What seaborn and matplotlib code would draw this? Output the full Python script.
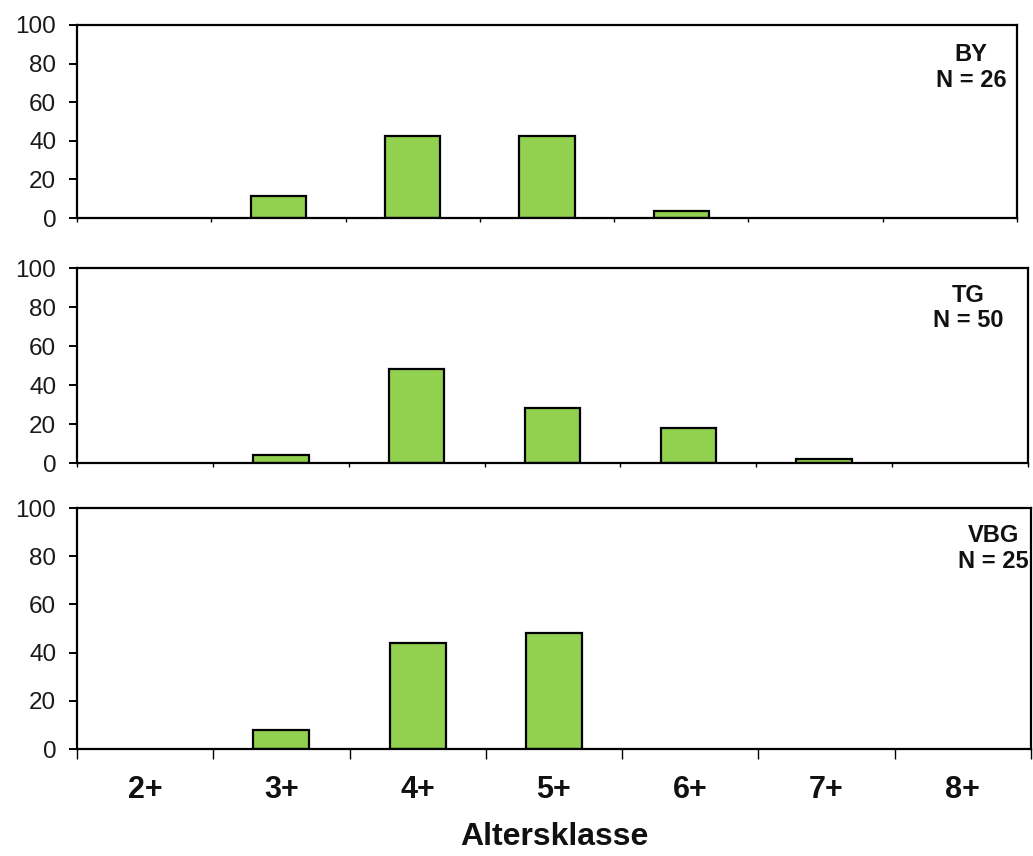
import numpy as np
import pandas as pd
import matplotlib
matplotlib.use("Agg")
import matplotlib.pyplot as plt
import seaborn as sns

# Age classes and percentages per region
classes = ["2+", "3+", "4+", "5+", "6+", "7+", "8+"]
by_values = [0, 11.5, 42.3, 42.3, 3.8, 0, 0]
tg_values = [0, 4, 48, 28, 18, 2, 0]
vbg_values = [0, 8, 44, 48, 0, 0, 0]

regions = ["BY", "TG", "VBG"]
counts = [26, 50, 25]
yticks = [0, 20, 40, 60, 80, 100]

sns.set_theme(style="white")
plt.rcParams['font.family'] = ['Liberation Sans', 'DejaVu Sans']

fig = plt.figure(figsize=(10.33, 8.56), dpi=100)

# axes rects [left, bottom, width, height] in figure fractions
rects = [
    [0.0745, 0.7453, 0.9100, 0.2255],
    [0.0745, 0.4591, 0.9207, 0.2278],
    [0.0745, 0.1250, 0.9235, 0.2815],
]
text_pos = [(0.951, 0.78), (0.937, 0.795), (0.961, 0.832)]
tick_len = [3, 3, 7.5]

all_values = [by_values, tg_values, vbg_values]

for i, (vals, name, n) in enumerate(zip(all_values, regions, counts)):
    ax = fig.add_axes(rects[i])
    df = pd.DataFrame({"klasse": classes, "prozent": vals})
    sns.barplot(data=df, x="klasse", y="prozent", order=classes,
                color="#92D050", saturation=1, edgecolor="black",
                linewidth=1.6, width=0.41, ax=ax)
    # hide the outline of empty classes
    for p in ax.patches:
        if p.get_height() == 0:
            p.set_linewidth(0)
    ax.set_xlim(-0.5, len(classes) - 0.5)
    ax.set_ylim(0, 100)
    ax.set_yticks(yticks)
    ax.set_xlabel("")
    ax.set_ylabel("")
    for sp in ax.spines.values():
        sp.set_visible(True)
        sp.set_color("black")
        sp.set_linewidth(1.6)
    ax.tick_params(axis="y", which="major", left=True, length=6,
                   width=1.4, color="black", pad=9, labelsize=17.5,
                   labelcolor="#1a1a1a")
    # boundary ticks between classes
    ax.set_xticks(np.arange(-0.5, len(classes)), minor=True)
    ax.tick_params(axis="x", which="minor", bottom=True, length=tick_len[i],
                   width=1.0, color="black")
    if i < 2:
        ax.tick_params(axis="x", which="major", length=0, labelbottom=False)
    else:
        ax.tick_params(axis="x", which="major", length=0, pad=19,
                       labelsize=22, labelcolor="#111111")
        for lab in ax.get_xticklabels():
            lab.set_fontweight("bold")
    ax.text(text_pos[i][0], text_pos[i][1], f"{name}\nN = {n}",
            transform=ax.transAxes, ha="center", va="center",
            multialignment="center", fontsize=17, fontweight="bold",
            linespacing=1.15, color="#111111")

fig.text(0.537, 1 - 837 / 856, "Altersklasse", ha="center", va="center",
         fontsize=23, fontweight="bold", color="#111111")

fig.savefig("out.png", dpi=100)
